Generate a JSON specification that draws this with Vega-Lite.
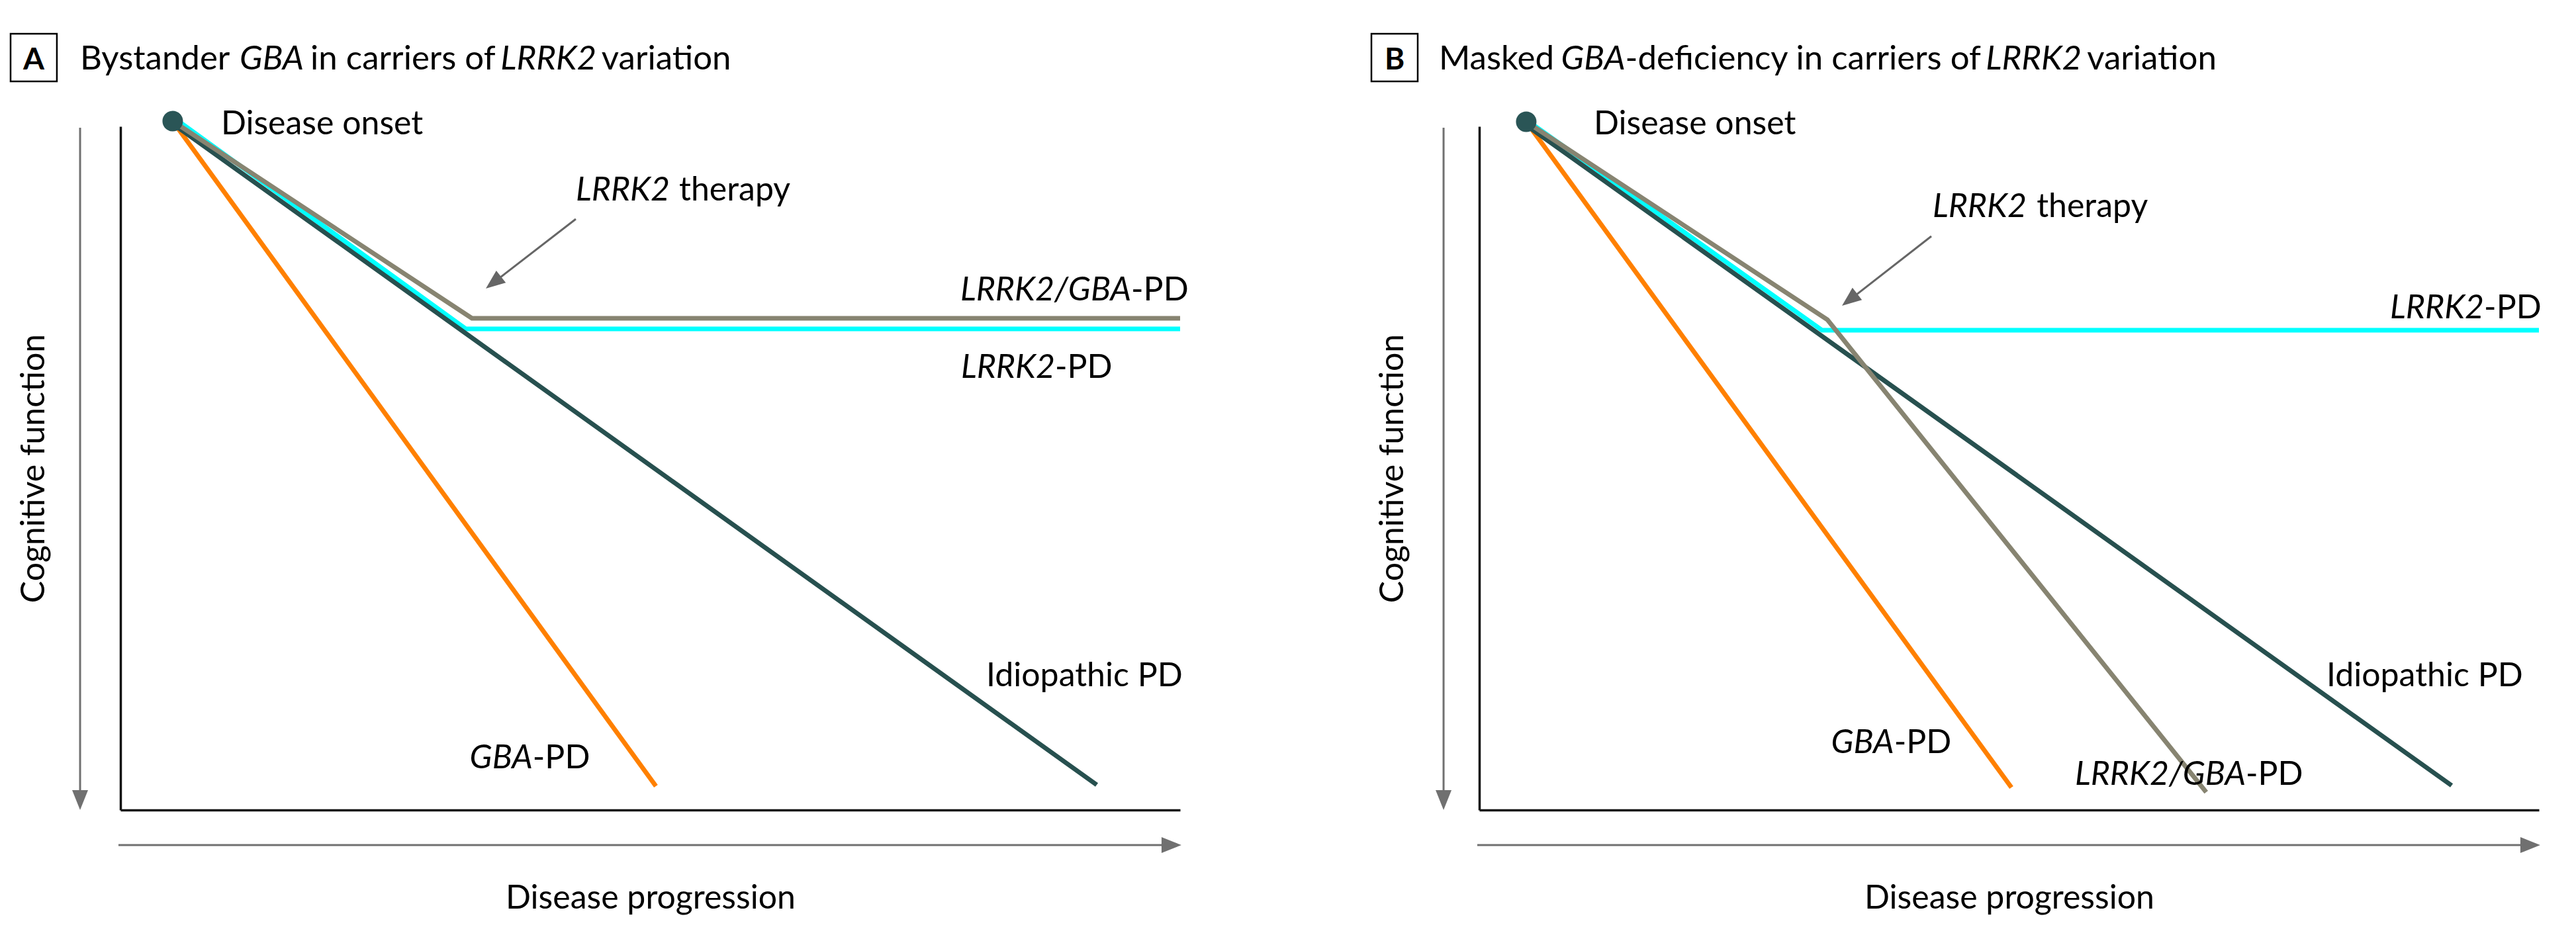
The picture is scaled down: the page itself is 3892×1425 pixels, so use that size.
{
  "$schema": "https://vega.github.io/schema/vega-lite/v6.json",
  "background": "white",
  "autosize": {"type": "pad"},
  "padding": {"left": 14, "top": 49, "right": 20, "bottom": 20},
  "bounds": "flush",
  "spacing": 452,
  "config": {
    "view": {"stroke": null},
    "font": "Lato",
    "axis": {
      "domain": true, "domainColor": "#111111", "domainWidth": 3.5, "ticks": false, "labels": false, "grid": false,
      "titleFont": "Lato", "titleFontSize": 50, "titleFontWeight": "normal", "titleColor": "#000000", "minExtent": 0, "maxExtent": 0
    }
  },
  "datasets": {
    "curves": [
      {"panel": "A", "series": "GBA-PD", "step": 0, "x": 4.93, "y": 100.77},
      {"panel": "A", "series": "GBA-PD", "step": 1, "x": 50.53, "y": 3.49},
      {"panel": "A", "series": "LRRK2-PD", "step": 0, "x": 4.93, "y": 101.36},
      {"panel": "A", "series": "LRRK2-PD", "step": 1, "x": 32.60, "y": 70.38},
      {"panel": "A", "series": "LRRK2-PD", "step": 2, "x": 100, "y": 70.38},
      {"panel": "A", "series": "Idiopathic PD", "step": 0, "x": 4.93, "y": 100.39},
      {"panel": "A", "series": "Idiopathic PD", "step": 1, "x": 92.13, "y": 3.68},
      {"panel": "A", "series": "LRRK2/GBA-PD", "step": 0, "x": 4.93, "y": 100.77},
      {"panel": "A", "series": "LRRK2/GBA-PD", "step": 1, "x": 33.17, "y": 71.93},
      {"panel": "A", "series": "LRRK2/GBA-PD", "step": 2, "x": 100, "y": 71.93},
      {"panel": "B", "series": "GBA-PD", "step": 0, "x": 4.43, "y": 100.68},
      {"panel": "B", "series": "GBA-PD", "step": 1, "x": 50.22, "y": 3.29},
      {"panel": "B", "series": "LRRK2-PD", "step": 0, "x": 4.43, "y": 100.97},
      {"panel": "B", "series": "LRRK2-PD", "step": 1, "x": 32.35, "y": 70.18},
      {"panel": "B", "series": "LRRK2-PD", "step": 2, "x": 100, "y": 70.18},
      {"panel": "B", "series": "Idiopathic PD", "step": 0, "x": 4.43, "y": 100.19},
      {"panel": "B", "series": "Idiopathic PD", "step": 1, "x": 91.76, "y": 3.58},
      {"panel": "B", "series": "LRRK2/GBA-PD", "step": 0, "x": 4.43, "y": 100.68},
      {"panel": "B", "series": "LRRK2/GBA-PD", "step": 1, "x": 32.85, "y": 71.73},
      {"panel": "B", "series": "LRRK2/GBA-PD", "step": 2, "x": 68.6, "y": 2.6}
    ],
    "onset": [
      {"panel": "A", "x": 4.93, "y": 100.77},
      {"panel": "B", "x": 4.43, "y": 100.68}
    ],
    "axisArrows": [
      {"panel": "A", "x": -3.81, "y": 99.81, "x2": -3.81, "y2": 2.52},
      {"panel": "A", "x": -0.19, "y": -5.13, "x2": 98.5, "y2": -5.13},
      {"panel": "B", "x": -3.37, "y": 99.81, "x2": -3.37, "y2": 2.52},
      {"panel": "B", "x": -0.19, "y": -5.13, "x2": 98.5, "y2": -5.13}
    ],
    "axisHeads": [
      {"panel": "A", "dir": "down", "x": -3.81, "y": 0},
      {"panel": "A", "dir": "right", "x": 100.12, "y": -5.13},
      {"panel": "B", "dir": "down", "x": -3.37, "y": 0},
      {"panel": "B", "dir": "right", "x": 100.12, "y": -5.13}
    ],
    "pointers": [
      {"panel": "A", "x": 42.97, "y": 86.45, "x2": 35.07, "y2": 76.99},
      {"panel": "B", "x": 42.66, "y": 83.93, "x2": 34.82, "y2": 74.47}
    ],
    "pointerHeads": [
      {"panel": "A", "x": 34.48, "y": 76.28},
      {"panel": "B", "x": 34.23, "y": 73.77}
    ],
    "boxes": [
      {"panel": "A", "x": -10.37, "x2": -6.0, "y": 113.55, "y2": 106.58},
      {"panel": "B", "x": -10.18, "x2": -5.81, "y": 113.55, "y2": 106.58}
    ],
    "letters": [
      {"panel": "A", "text": "A", "x": -8.18, "y": 108.33},
      {"panel": "B", "text": "B", "x": -7.99, "y": 108.33}
    ],
    "labels": [
      {"panel": "A", "role": "title", "kind": "text", "anchor": "start", "text": "Bystander", "x": -3.81, "y": 108.33},
      {"panel": "A", "role": "title", "kind": "gene", "anchor": "start", "text": "GBA", "x": 11.24, "y": 108.33},
      {"panel": "A", "role": "title", "kind": "text", "anchor": "start", "text": "in carriers of", "x": 17.93, "y": 108.33},
      {"panel": "A", "role": "title", "kind": "gene", "anchor": "start", "text": "LRRK2", "x": 35.87, "y": 108.33},
      {"panel": "A", "role": "title", "kind": "text", "anchor": "start", "text": "variation", "x": 45.4, "y": 108.33},
      {"panel": "A", "role": "label", "kind": "text", "anchor": "start", "text": "Disease onset", "x": 9.49, "y": 98.84},
      {"panel": "A", "role": "label", "kind": "gene", "anchor": "start", "text": "LRRK2", "x": 42.97, "y": 89.16},
      {"panel": "A", "role": "label", "kind": "text", "anchor": "start", "text": "therapy", "x": 52.72, "y": 89.16},
      {"panel": "A", "role": "label", "kind": "gene", "anchor": "end", "text": "LRRK2/GBA", "x": 95.38, "y": 74.54},
      {"panel": "A", "role": "label", "kind": "text", "anchor": "start", "text": "-PD", "x": 95.38, "y": 74.54},
      {"panel": "A", "role": "label", "kind": "gene", "anchor": "end", "text": "LRRK2", "x": 88.19, "y": 63.21},
      {"panel": "A", "role": "label", "kind": "text", "anchor": "start", "text": "-PD", "x": 88.19, "y": 63.21},
      {"panel": "A", "role": "label", "kind": "text", "anchor": "start", "text": "Idiopathic PD", "x": 81.7, "y": 18.1},
      {"panel": "A", "role": "label", "kind": "gene", "anchor": "end", "text": "GBA", "x": 38.9, "y": 6.1},
      {"panel": "A", "role": "label", "kind": "text", "anchor": "start", "text": "-PD", "x": 38.9, "y": 6.1},
      {"panel": "B", "role": "title", "kind": "text", "anchor": "start", "text": "Masked", "x": -3.81, "y": 108.33},
      {"panel": "B", "role": "title", "kind": "gene", "anchor": "end", "text": "GBA", "x": 13.78, "y": 108.33},
      {"panel": "B", "role": "title", "kind": "text", "anchor": "start", "text": "-deficiency in carriers of", "x": 13.78, "y": 108.33},
      {"panel": "B", "role": "title", "kind": "gene", "anchor": "start", "text": "LRRK2", "x": 47.8, "y": 108.33},
      {"panel": "B", "role": "title", "kind": "text", "anchor": "start", "text": "variation", "x": 57.35, "y": 108.33},
      {"panel": "B", "role": "label", "kind": "text", "anchor": "start", "text": "Disease onset", "x": 10.81, "y": 98.84},
      {"panel": "B", "role": "label", "kind": "gene", "anchor": "start", "text": "LRRK2", "x": 42.78, "y": 86.74},
      {"panel": "B", "role": "label", "kind": "text", "anchor": "start", "text": "therapy", "x": 52.6, "y": 86.74},
      {"panel": "B", "role": "label", "kind": "gene", "anchor": "end", "text": "LRRK2", "x": 94.82, "y": 71.93},
      {"panel": "B", "role": "label", "kind": "text", "anchor": "start", "text": "-PD", "x": 94.82, "y": 71.93},
      {"panel": "B", "role": "label", "kind": "text", "anchor": "start", "text": "Idiopathic PD", "x": 79.95, "y": 18.1},
      {"panel": "B", "role": "label", "kind": "gene", "anchor": "end", "text": "GBA", "x": 39.14, "y": 8.33},
      {"panel": "B", "role": "label", "kind": "text", "anchor": "start", "text": "-PD", "x": 39.14, "y": 8.33},
      {"panel": "B", "role": "label", "kind": "gene", "anchor": "end", "text": "LRRK2/GBA", "x": 72.33, "y": 3.68},
      {"panel": "B", "role": "label", "kind": "text", "anchor": "start", "text": "-PD", "x": 72.33, "y": 3.68}
    ]
  },
  "hconcat": [
    {
      "width": 1601,
      "height": 1033,
      "encoding": {
        "x": {"field": "x", "type": "quantitative", "scale": {"domain": [0, 100], "nice": false, "zero": false}, "axis": {"title": "Disease progression", "titlePadding": 108}},
        "y": {"field": "y", "type": "quantitative", "scale": {"domain": [0, 100], "nice": false, "zero": false}, "axis": {"title": "Cognitive function", "titlePadding": 106}}
      },
      "layer": [
        {"data": {"name": "curves"}, "transform": [{"filter": "datum.panel === 'A'"}],
         "mark": {"type": "line", "strokeWidth": 7, "strokeJoin": "miter", "strokeCap": "butt"},
         "encoding": {"color": {"field": "series", "type": "nominal", "scale": {"domain": ["GBA-PD", "LRRK2-PD", "Idiopathic PD", "LRRK2/GBA-PD"], "range": ["#ff8000", "#00ffff", "#27504f", "#878471"]}, "legend": null}, "order": {"field": "step", "type": "quantitative"}}},
        {"data": {"name": "axisArrows"}, "transform": [{"filter": "datum.panel === 'A'"}],
         "mark": {"type": "rule", "color": "#707070", "strokeWidth": 3},
         "encoding": {"x2": {"field": "x2"}, "y2": {"field": "y2"}}},
        {"data": {"name": "axisHeads"}, "transform": [{"filter": "datum.panel === 'A' && datum.dir === 'down'"}],
         "mark": {"type": "point", "shape": "M0,0L0.8,2L-0.8,2Z", "filled": true, "size": 900, "angle": 180, "color": "#707070", "opacity": 1, "strokeWidth": 0}},
        {"data": {"name": "axisHeads"}, "transform": [{"filter": "datum.panel === 'A' && datum.dir === 'right'"}],
         "mark": {"type": "point", "shape": "M0,0L0.8,2L-0.8,2Z", "filled": true, "size": 900, "angle": 90, "color": "#707070", "opacity": 1, "strokeWidth": 0}},
        {"data": {"name": "pointers"}, "transform": [{"filter": "datum.panel === 'A'"}],
         "mark": {"type": "rule", "color": "#666666", "strokeWidth": 3},
         "encoding": {"x2": {"field": "x2"}, "y2": {"field": "y2"}}},
        {"data": {"name": "pointerHeads"}, "transform": [{"filter": "datum.panel === 'A'"}],
         "mark": {"type": "point", "shape": "M0,0L0.8,2L-0.8,2Z", "filled": true, "size": 850, "angle": 232, "color": "#666666", "opacity": 1, "strokeWidth": 0}},
        {"data": {"name": "onset"}, "transform": [{"filter": "datum.panel === 'A'"}],
         "mark": {"type": "point", "shape": "circle", "filled": true, "size": 962, "color": "#2a5556", "opacity": 1, "strokeWidth": 0}},
        {"data": {"name": "boxes"}, "transform": [{"filter": "datum.panel === 'A'"}],
         "mark": {"type": "rect", "fill": "transparent", "stroke": "#000000", "strokeWidth": 2.5},
         "encoding": {"x2": {"field": "x2"}, "y2": {"field": "y2"}}},
        {"data": {"name": "letters"}, "transform": [{"filter": "datum.panel === 'A'"}],
         "mark": {"type": "text", "align": "center", "baseline": "alphabetic", "fontSize": 46, "fontWeight": "bold", "color": "#000000"},
         "encoding": {"text": {"field": "text"}}},
        {"data": {"name": "labels"}, "transform": [{"filter": "datum.panel === 'A' && datum.kind === 'text' && datum.anchor === 'start'"}],
         "mark": {"type": "text", "align": "left", "baseline": "alphabetic", "color": "#000000"},
         "encoding": {"text": {"field": "text"}, "size": {"field": "role", "type": "ordinal", "scale": {"domain": ["label", "title"], "range": [50, 51]}, "legend": null}}},
        {"data": {"name": "labels"}, "transform": [{"filter": "datum.panel === 'A' && datum.kind === 'gene' && datum.anchor === 'start'"}],
         "mark": {"type": "text", "align": "left", "baseline": "alphabetic", "fontStyle": "italic", "color": "#000000"},
         "encoding": {"text": {"field": "text"}, "size": {"field": "role", "type": "ordinal", "scale": {"domain": ["label", "title"], "range": [50, 51]}, "legend": null}}},
        {"data": {"name": "labels"}, "transform": [{"filter": "datum.panel === 'A' && datum.kind === 'gene' && datum.anchor === 'end'"}],
         "mark": {"type": "text", "align": "right", "baseline": "alphabetic", "fontStyle": "italic", "color": "#000000"},
         "encoding": {"text": {"field": "text"}, "size": {"field": "role", "type": "ordinal", "scale": {"domain": ["label", "title"], "range": [50, 51]}, "legend": null}}}
      ]
    },
    {
      "width": 1601,
      "height": 1033,
      "encoding": {
        "x": {"field": "x", "type": "quantitative", "scale": {"domain": [0, 100], "nice": false, "zero": false}, "axis": {"title": "Disease progression", "titlePadding": 108}},
        "y": {"field": "y", "type": "quantitative", "scale": {"domain": [0, 100], "nice": false, "zero": false}, "axis": {"title": "Cognitive function", "titlePadding": 106}}
      },
      "layer": [
        {"data": {"name": "curves"}, "transform": [{"filter": "datum.panel === 'B'"}],
         "mark": {"type": "line", "strokeWidth": 7, "strokeJoin": "miter", "strokeCap": "butt"},
         "encoding": {"color": {"field": "series", "type": "nominal", "scale": {"domain": ["GBA-PD", "LRRK2-PD", "Idiopathic PD", "LRRK2/GBA-PD"], "range": ["#ff8000", "#00ffff", "#27504f", "#878471"]}, "legend": null}, "order": {"field": "step", "type": "quantitative"}}},
        {"data": {"name": "axisArrows"}, "transform": [{"filter": "datum.panel === 'B'"}],
         "mark": {"type": "rule", "color": "#707070", "strokeWidth": 3},
         "encoding": {"x2": {"field": "x2"}, "y2": {"field": "y2"}}},
        {"data": {"name": "axisHeads"}, "transform": [{"filter": "datum.panel === 'B' && datum.dir === 'down'"}],
         "mark": {"type": "point", "shape": "M0,0L0.8,2L-0.8,2Z", "filled": true, "size": 900, "angle": 180, "color": "#707070", "opacity": 1, "strokeWidth": 0}},
        {"data": {"name": "axisHeads"}, "transform": [{"filter": "datum.panel === 'B' && datum.dir === 'right'"}],
         "mark": {"type": "point", "shape": "M0,0L0.8,2L-0.8,2Z", "filled": true, "size": 900, "angle": 90, "color": "#707070", "opacity": 1, "strokeWidth": 0}},
        {"data": {"name": "pointers"}, "transform": [{"filter": "datum.panel === 'B'"}],
         "mark": {"type": "rule", "color": "#666666", "strokeWidth": 3},
         "encoding": {"x2": {"field": "x2"}, "y2": {"field": "y2"}}},
        {"data": {"name": "pointerHeads"}, "transform": [{"filter": "datum.panel === 'B'"}],
         "mark": {"type": "point", "shape": "M0,0L0.8,2L-0.8,2Z", "filled": true, "size": 850, "angle": 232, "color": "#666666", "opacity": 1, "strokeWidth": 0}},
        {"data": {"name": "onset"}, "transform": [{"filter": "datum.panel === 'B'"}],
         "mark": {"type": "point", "shape": "circle", "filled": true, "size": 962, "color": "#2a5556", "opacity": 1, "strokeWidth": 0}},
        {"data": {"name": "boxes"}, "transform": [{"filter": "datum.panel === 'B'"}],
         "mark": {"type": "rect", "fill": "transparent", "stroke": "#000000", "strokeWidth": 2.5},
         "encoding": {"x2": {"field": "x2"}, "y2": {"field": "y2"}}},
        {"data": {"name": "letters"}, "transform": [{"filter": "datum.panel === 'B'"}],
         "mark": {"type": "text", "align": "center", "baseline": "alphabetic", "fontSize": 46, "fontWeight": "bold", "color": "#000000"},
         "encoding": {"text": {"field": "text"}}},
        {"data": {"name": "labels"}, "transform": [{"filter": "datum.panel === 'B' && datum.kind === 'text' && datum.anchor === 'start'"}],
         "mark": {"type": "text", "align": "left", "baseline": "alphabetic", "color": "#000000"},
         "encoding": {"text": {"field": "text"}, "size": {"field": "role", "type": "ordinal", "scale": {"domain": ["label", "title"], "range": [50, 51]}, "legend": null}}},
        {"data": {"name": "labels"}, "transform": [{"filter": "datum.panel === 'B' && datum.kind === 'gene' && datum.anchor === 'start'"}],
         "mark": {"type": "text", "align": "left", "baseline": "alphabetic", "fontStyle": "italic", "color": "#000000"},
         "encoding": {"text": {"field": "text"}, "size": {"field": "role", "type": "ordinal", "scale": {"domain": ["label", "title"], "range": [50, 51]}, "legend": null}}},
        {"data": {"name": "labels"}, "transform": [{"filter": "datum.panel === 'B' && datum.kind === 'gene' && datum.anchor === 'end'"}],
         "mark": {"type": "text", "align": "right", "baseline": "alphabetic", "fontStyle": "italic", "color": "#000000"},
         "encoding": {"text": {"field": "text"}, "size": {"field": "role", "type": "ordinal", "scale": {"domain": ["label", "title"], "range": [50, 51]}, "legend": null}}}
      ]
    }
  ]
}
